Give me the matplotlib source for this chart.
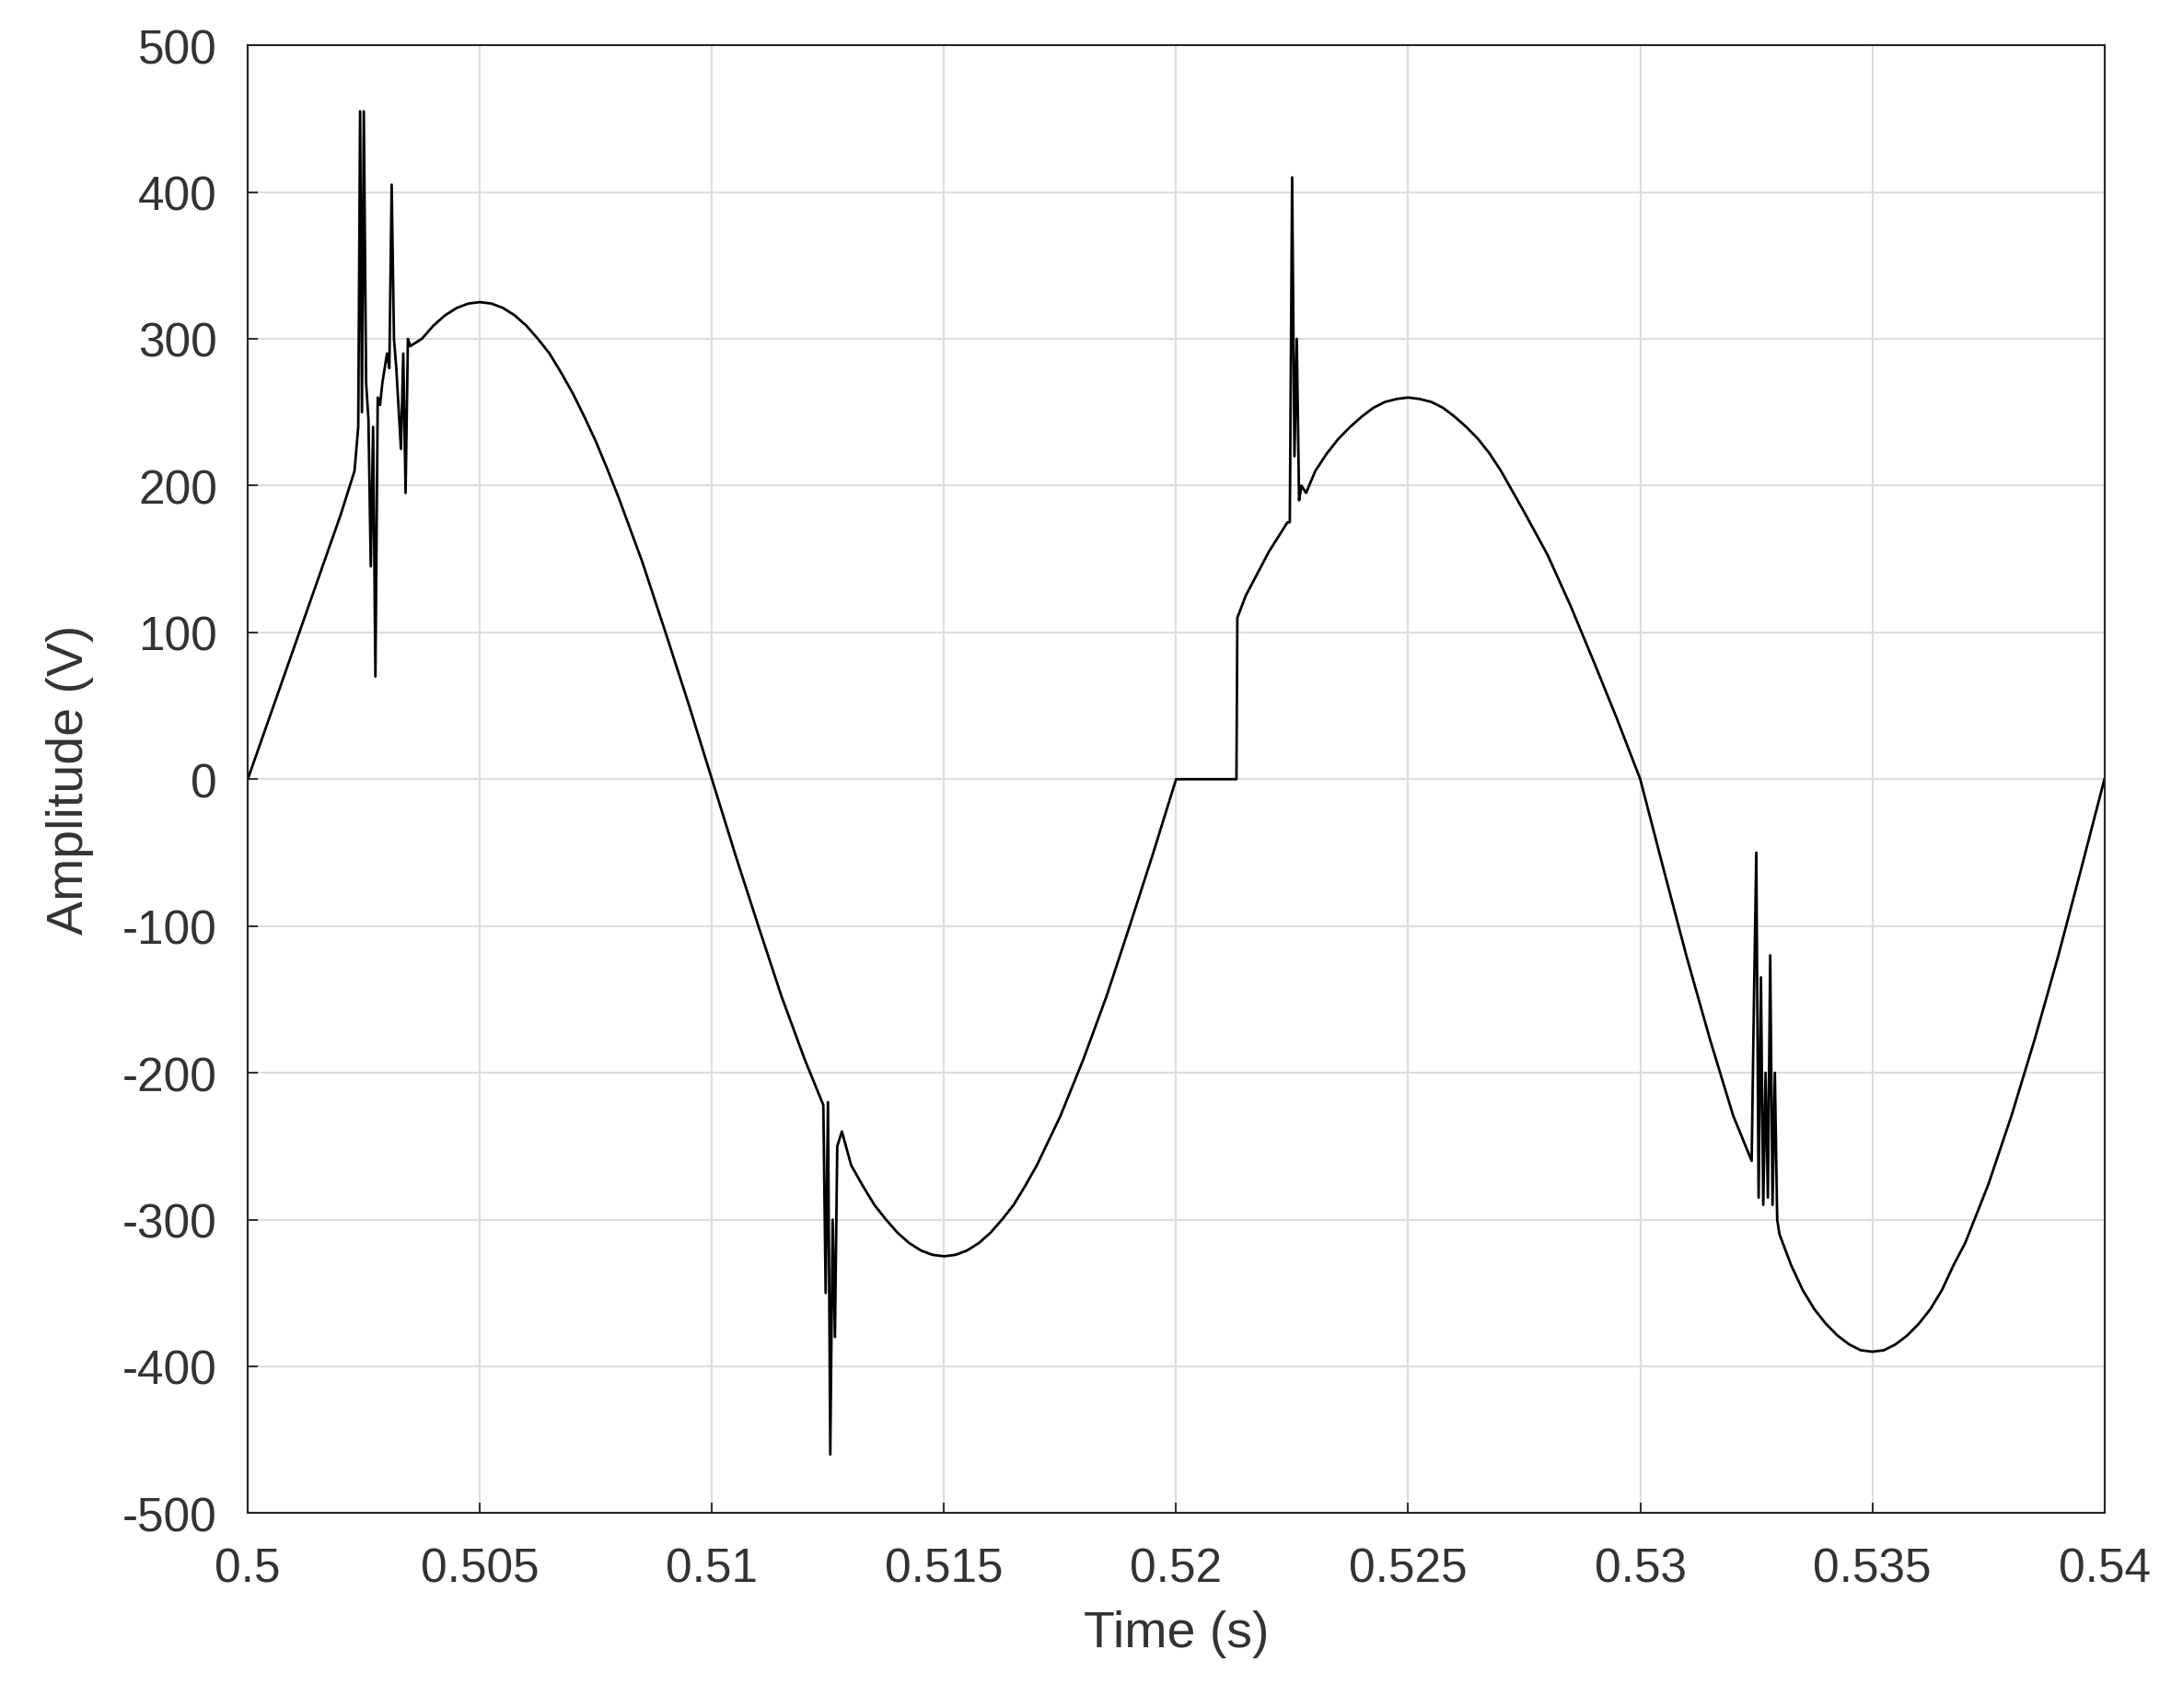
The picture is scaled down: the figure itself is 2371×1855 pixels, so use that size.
import matplotlib
matplotlib.use("Agg")
import matplotlib.pyplot as plt

t = [0.5, 0.5005, 0.501, 0.5015, 0.502, 0.5023, 0.50238, 0.50242, 0.50246, 0.5025, 0.50255, 0.5026, 0.50265, 0.5027, 0.50275, 0.5028, 0.50285, 0.5029, 0.503, 0.50305, 0.5031, 0.50315, 0.5032, 0.5033, 0.50335, 0.5034, 0.50345, 0.5035,
     0.50375, 0.504, 0.50425, 0.5045, 0.50475, 0.505, 0.50525, 0.5055, 0.50575, 0.506, 0.50625, 0.5065, 0.50675, 0.507, 0.50725, 0.5075, 0.50775, 0.508, 0.5085, 0.509, 0.5095, 0.51, 0.5105, 0.511, 0.5115, 0.512, 0.5124,
     0.51245, 0.5125, 0.51255, 0.5126, 0.51265, 0.5127, 0.5128,
     0.513, 0.51325, 0.5135, 0.51375, 0.514, 0.51425, 0.5145, 0.51475, 0.515, 0.51525, 0.5155, 0.51575, 0.516, 0.51625, 0.5165, 0.51675, 0.517, 0.5175, 0.518, 0.5185, 0.519, 0.5195, 0.52,
     0.5205, 0.521, 0.5213, 0.52132, 0.5215, 0.522, 0.5224, 0.52245, 0.5225, 0.52255, 0.5226, 0.52265, 0.5227, 0.5228,
     0.523, 0.52325, 0.5235, 0.52375, 0.524, 0.52425, 0.5245, 0.52475, 0.525, 0.52525, 0.5255, 0.52575, 0.526, 0.52625, 0.5265, 0.52675, 0.527, 0.5275, 0.528, 0.5285, 0.529, 0.5295, 0.53,
     0.5305, 0.531, 0.5315, 0.532, 0.5324, 0.53245, 0.5325, 0.53255, 0.5326, 0.53265, 0.5327, 0.53275, 0.5328, 0.53285, 0.5329, 0.53295, 0.533,
     0.53325, 0.5335, 0.53375, 0.534, 0.53425, 0.5345, 0.53475, 0.535, 0.53525, 0.5355, 0.53575, 0.536, 0.53625, 0.5365, 0.53675, 0.537, 0.5375, 0.538, 0.5385, 0.539, 0.5395, 0.54]
v = [0, 45, 90, 135, 180, 210, 240, 455, 250, 455, 270, 245, 145, 240, 70, 260, 255, 270, 290, 280, 405, 300, 280, 225, 290, 195, 300, 295,
     300, 309, 316, 321, 324, 325, 324, 321, 316, 309, 300, 290, 277, 263, 247, 230, 211, 191, 148, 100, 51, 0, -51, -100, -148, -191, -222,
     -350, -220, -460, -300, -380, -250, -240,
     -263, -277, -290, -300, -309, -316, -321, -324, -325, -324, -321, -316, -309, -300, -290, -277, -263, -230, -191, -148, -100, -51, 0,
     0, 0, 0, 110, 125, 155, 175, 175, 410, 220, 300, 190, 200, 195,
     210, 222, 232, 240, 247, 253, 257, 259, 260, 259, 257, 253, 247, 240, 232, 222, 210, 182, 153, 118, 80, 41, 0,
     -61, -121, -177, -229, -260, -150, -50, -285, -135, -290, -200, -285, -120, -290, -200, -300, -310,
     -331, -348, -361, -371, -379, -385, -389, -390, -389, -385, -379, -371, -361, -348, -331, -316, -276, -229, -177, -121, -61, 0]

xticks = [0.5, 0.505, 0.51, 0.515, 0.52, 0.525, 0.53, 0.535, 0.54]
xlabels = ["0.5", "0.505", "0.51", "0.515", "0.52", "0.525", "0.53", "0.535", "0.54"]
yticks = [-500, -400, -300, -200, -100, 0, 100, 200, 300, 400, 500]

plt.rcParams['font.family'] = ['Liberation Sans', 'DejaVu Sans']
plt.rcParams['axes.unicode_minus'] = False
fig = plt.figure(figsize=(23.71, 18.56), dpi=100)
ax = fig.add_axes([0.1135, 0.114, 0.8505, 0.859])
ax.plot(t, v, color='black', lw=2.0)
ax.set_xlim(0.5, 0.54)
ax.set_ylim(-500, 500)
ax.set_xticks(xticks)
ax.set_xticklabels(xlabels)
ax.set_yticks(yticks)
ax.grid(True, color='#dddddd', lw=1.5)
ax.tick_params(labelsize=37, colors='#333333', direction='in', length=8, width=1.5)
ax.tick_params(axis='x', pad=26)
ax.tick_params(axis='y', pad=24)
for s in ax.spines.values():
    s.set_color('#262626'); s.set_linewidth(1.5)
ax.set_xlabel("Time (s)", fontsize=40, color='#333333', labelpad=14)
ax.set_ylabel("Amplitude (V)", fontsize=40, color='#333333', labelpad=22)
fig.savefig("out.png", dpi=100, facecolor='white')
